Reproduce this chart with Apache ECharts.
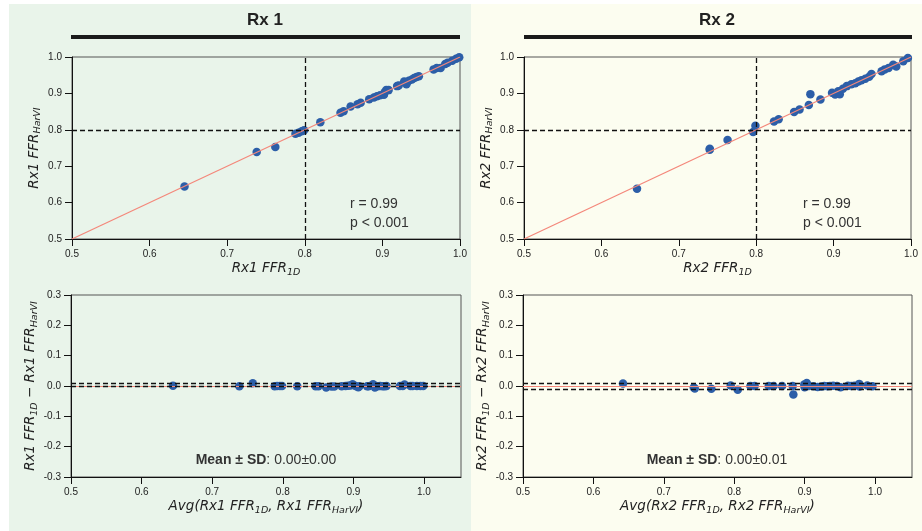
<!DOCTYPE html>
<html><head><meta charset="utf-8">
<script src="https://cdn.jsdelivr.net/npm/echarts@6/dist/echarts.min.js"></script>
<style>html,body{margin:0;padding:0;background:#fff}#c{width:922px;height:531px}</style>
</head><body><div id="c"></div>
<script>
// ---- data ----
const rx1_1D    = [0.645,0.738,0.762,0.788,0.792,0.796,0.799,0.820,0.846,0.850,0.859,0.868,0.872,0.883,0.889,0.893,0.897,0.902,0.903,0.905,0.908,0.919,0.921,0.931,0.928,0.934,0.938,0.941,0.944,0.947,0.966,0.970,0.975,0.981,0.984,0.990,0.995,0.999];
const rx1_HarVI = [0.644,0.739,0.753,0.789,0.792,0.796,0.799,0.821,0.847,0.851,0.864,0.870,0.874,0.884,0.889,0.892,0.895,0.896,0.903,0.909,0.909,0.920,0.922,0.925,0.933,0.935,0.938,0.942,0.945,0.947,0.966,0.970,0.970,0.981,0.984,0.990,0.995,0.999];
const rx2_1D    = [0.646,0.740,0.740,0.763,0.796,0.799,0.823,0.829,0.849,0.856,0.868,0.870,0.883,0.898,0.902,0.908,0.906,0.912,0.917,0.923,0.928,0.932,0.936,0.941,0.946,0.949,0.962,0.966,0.971,0.977,0.981,0.990,0.996];
const rx2_HarVI = [0.638,0.745,0.748,0.772,0.794,0.811,0.823,0.829,0.849,0.856,0.868,0.898,0.883,0.902,0.897,0.898,0.906,0.913,0.920,0.925,0.928,0.933,0.936,0.940,0.946,0.953,0.961,0.966,0.970,0.979,0.974,0.988,0.997];
const identityLine = [[0.5,0.5],[1.0,1.0]];
const cutoff = 0.8;
const rx1_stats = {r:'0.99', p:'< 0.001', mean:0.001, lower:-0.004, upper:0.006, label:'0.00±0.00'};
const rx2_stats = {r:'0.99', p:'< 0.001', mean:0.000, lower:-0.0105, upper:0.0105, label:'0.00±0.01'};
const scatterTicks = [0.5,0.6,0.7,0.8,0.9,1.0];
const baXTicks = [0.5,0.6,0.7,0.8,0.9,1.0];
const baYTicks = [-0.3,-0.2,-0.1,0.0,0.1,0.2,0.3];

// ---- build ----
const zip = (a,b) => a.map((v,i)=>[v,b[i]]);
const ba = (a,b) => a.map((v,i)=>[(v+b[i])/2, v-b[i]]);
const DOT = '#2c5ea8', RED = '#f4877a';
const FONT = 'Liberation Sans';
const rich = {
  i:{fontStyle:'italic',fontSize:13.5,fontFamily:'DejaVu Sans',color:'#222',lineHeight:16},
  s:{fontStyle:'italic',fontSize:9.5,fontFamily:'DejaVu Sans',color:'#222',lineHeight:10,padding:[8,0,0,0]}
};
function nm(rx, kind){
  if(kind==='x') return `{i|${rx} FFR}{s|1D}`;
  if(kind==='y') return `{i|${rx} FFR}{s|HarVI}`;
  if(kind==='by') return `{i|${rx} FFR}{s|1D}{i| − ${rx} FFR}{s|HarVI}`;
  return `{i|Avg(${rx} FFR}{s|1D}{i|, ${rx} FFR}{s|HarVI}{i|)}`;
}
const grids = [
  {left:72, top:57, width:388, height:182},
  {left:524, top:57, width:387, height:182},
  {left:71, top:295, width:390, height:182},
  {left:523, top:295, width:389, height:182}
].map(g=>Object.assign({show:true,borderColor:'#555',borderWidth:1,backgroundColor:'transparent'},g));

function axisBase(extra){
  return Object.assign({
    type:'value',
    axisLine:{show:true,onZero:false,lineStyle:{color:'#111',width:1}},
    splitLine:{show:false},
    nameLocation:'middle',
    nameTextStyle:{rich:rich}
  }, extra);
}
const lab = ticks => ({fontSize:10,color:'#222',fontFamily:FONT,margin:10,customValues:ticks,formatter:v=>v.toFixed(1)});
const tck = ticks => ({show:true,length:7,lineStyle:{color:'#111'},customValues:ticks});
const xAxes = [], yAxes = [];
[['Rx1',0],['Rx2',1]].forEach(([rx,gi])=>{
  xAxes.push(axisBase({gridIndex:gi,min:0.5,max:1.0,name:nm(rx,'x'),nameGap:20,axisLabel:lab(scatterTicks),axisTick:tck(scatterTicks)}));
  yAxes.push(axisBase({gridIndex:gi,min:0.5,max:1.0,name:nm(rx,'y'),nameGap:30,axisLabel:lab(scatterTicks),axisTick:tck(scatterTicks)}));
});
[['Rx1',2],['Rx2',3]].forEach(([rx,gi])=>{
  xAxes.push(axisBase({gridIndex:gi,min:0.5,max:1.0525,name:nm(rx,'bx'),nameGap:20,axisLabel:lab(baXTicks),axisTick:tck(baXTicks)}));
  yAxes.push(axisBase({gridIndex:gi,min:-0.3,max:0.3,name:nm(rx,'by'),nameGap:31,axisLabel:lab(baYTicks),axisTick:tck(baYTicks)}));
});

const dash = {color:'#111',type:[5,3],width:1.3};
const series = [];
[[rx1_1D,rx1_HarVI,0],[rx2_1D,rx2_HarVI,1]].forEach(([a,b,i])=>{
  series.push({type:'scatter',xAxisIndex:i,yAxisIndex:i,data:zip(a,b),symbolSize:8.5,itemStyle:{color:DOT,opacity:1},z:2,silent:true});
  series.push({type:'line',xAxisIndex:i,yAxisIndex:i,data:identityLine,symbol:'none',lineStyle:{color:RED,width:1.2},z:3,silent:true,
    markLine:{silent:true,symbol:'none',label:{show:false},lineStyle:dash,data:[{xAxis:cutoff},{yAxis:cutoff}]}});
});
[[rx1_1D,rx1_HarVI,rx1_stats,2],[rx2_1D,rx2_HarVI,rx2_stats,3]].forEach(([a,b,st,i])=>{
  series.push({type:'scatter',xAxisIndex:i,yAxisIndex:i,data:ba(a,b),symbolSize:8.5,itemStyle:{color:DOT,opacity:1},z:2,silent:true,
    markLine:{silent:true,symbol:'none',label:{show:false},data:[
      {yAxis:st.mean,lineStyle:{color:RED,width:1.2,type:'solid'}},
      {yAxis:st.upper,lineStyle:dash},
      {yAxis:st.lower,lineStyle:dash}]}});
});

const txt = (x,y,text,extra)=>({type:'text',x:x,y:y,silent:true,style:Object.assign({text:text,fill:'#333',font:`14px ${FONT}`},extra||{})});
const meanRich = {b:{fontWeight:'bold',fontSize:14,fontFamily:FONT,fill:'#333'},n:{fontSize:14,fontFamily:FONT,fill:'#333'}};
const graphic = [
  {type:'rect',shape:{x:9,y:4,width:462,height:527},style:{fill:'#e9f4ea'},z:-10,silent:true},
  {type:'rect',shape:{x:471,y:4,width:451,height:527},style:{fill:'#fcfdf0'},z:-10,silent:true},
  {type:'rect',shape:{x:71,y:35,width:389,height:4},style:{fill:'#1a1a1a'},silent:true},
  {type:'rect',shape:{x:524,y:35,width:388,height:4},style:{fill:'#1a1a1a'},silent:true},
  txt(265,20,'Rx 1',{font:`bold 17px ${FONT}`,fill:'#222',textAlign:'center',textVerticalAlign:'middle'}),
  txt(717,20,'Rx 2',{font:`bold 17px ${FONT}`,fill:'#222',textAlign:'center',textVerticalAlign:'middle'}),
  txt(350,204,'r = '+rx1_stats.r,{textVerticalAlign:'middle'}),
  txt(350,223,'p '+rx1_stats.p,{textVerticalAlign:'middle'}),
  txt(803,204,'r = '+rx2_stats.r,{textVerticalAlign:'middle'}),
  txt(803,223,'p '+rx2_stats.p,{textVerticalAlign:'middle'}),
  {type:'text',x:266,y:460,silent:true,style:{text:'{b|Mean ± SD}{n|: '+rx1_stats.label+'}',rich:meanRich,textAlign:'center',textVerticalAlign:'middle'}},
  {type:'text',x:717,y:460,silent:true,style:{text:'{b|Mean ± SD}{n|: '+rx2_stats.label+'}',rich:meanRich,textAlign:'center',textVerticalAlign:'middle'}}
];

const chart = echarts.init(document.getElementById('c'),null,{renderer:'canvas'});
chart.setOption({
  animation:false,
  backgroundColor:'#ffffff',
  textStyle:{fontFamily:FONT},
  grid:grids, xAxis:xAxes, yAxis:yAxes, series:series, graphic:graphic
});
</script></body></html>
